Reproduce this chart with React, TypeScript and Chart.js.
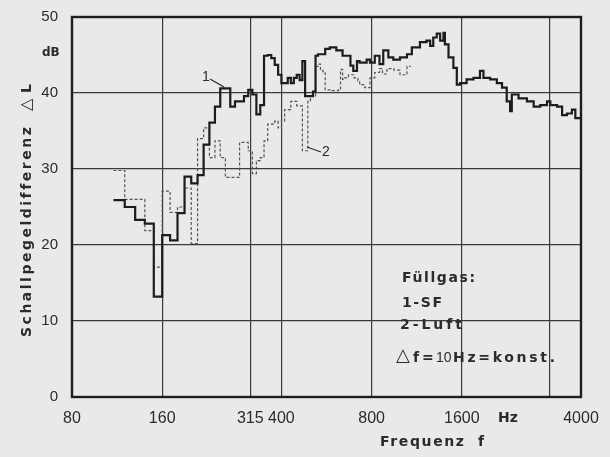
import React, { useEffect, useRef } from 'react';
import { Chart, registerables } from 'chart.js';

Chart.register(...registerables);

// ---- data ----
const xTicks = [80, 160, 315, 400, 800, 1600, 3150, 4000];
const xTicksUnlabeled = [3150];
const yTicks = [0, 10, 20, 30, 40, 50];

// Curve 1: Füllgas SF (step values, each valid from its frequency up to the next)
const sfFreq = [
  110, 120, 130, 140, 150, 160, 170, 180, 190, 200,
  210, 220, 230, 240, 250, 260, 270, 280, 290, 300,
  310, 320, 330, 340, 350, 360, 370, 380, 390, 400,
  410, 420, 430, 440, 450, 460, 470, 480, 490, 500,
  510, 520, 530, 550, 560, 580, 610, 640, 680, 695,
  715, 730, 770, 790, 820, 850, 875, 910, 945, 995,
  1050, 1090, 1160, 1220, 1255, 1285, 1320, 1355, 1390, 1405,
  1445, 1500, 1540, 1580, 1660, 1750, 1840, 1890, 1990, 2095,
  2180, 2260, 2320, 2350, 2475, 2640, 2780, 2925, 3080, 3160,
  3330, 3460, 3590, 3730, 3830, 4000,
];
const sfDb = [
  25.9, 25.0, 23.3, 22.8, 13.2, 21.3, 20.6, 24.2, 29.0, 28.1,
  29.2, 33.2, 36.1, 38.2, 40.6, 40.6, 38.2, 38.9, 38.9, 39.6,
  40.4, 39.8, 37.2, 38.4, 44.9, 45.0, 44.6, 43.7, 42.4, 41.3,
  41.3, 42.0, 41.3, 42.0, 42.4, 41.7, 44.2, 39.6, 39.6, 39.6,
  40.2, 44.9, 45.1, 45.1, 45.8, 46.0, 45.6, 44.9, 43.6, 42.9,
  44.2, 44.0, 44.4, 44.0, 44.9, 43.8, 45.6, 44.7, 44.4, 44.7,
  45.1, 46.0, 46.7, 46.9, 46.2, 47.3, 47.8, 46.9, 47.9, 46.4,
  44.7, 43.3, 41.1, 41.3, 41.8, 42.0, 42.9, 42.0, 41.8, 41.3,
  40.7, 38.9, 37.6, 39.8, 39.3, 38.9, 38.2, 38.4, 38.9, 38.4,
  38.2, 37.1, 37.3, 37.8, 36.7, 36.7,
];

// Curve 2: Füllgas Luft
const luftFreq = [
  110, 120, 130, 140, 150, 160, 170, 180, 190, 200,
  210, 220, 230, 240, 250, 260, 270, 280, 290, 300,
  310, 320, 330, 340, 350, 360, 370, 380, 390, 400,
  410, 420, 430, 440, 450, 460, 470, 480, 490, 500,
  510, 520, 530, 540, 550, 560, 590, 620, 630, 640,
  650, 670, 700, 720, 730, 760, 790, 820, 850, 870,
  900, 950, 995, 1050, 1080,
];
const luftDb = [
  29.8, 26.0, 26.0, 21.9, 17.1, 27.1, 24.3, 25.0, 27.5, 20.2,
  34.0, 35.4, 31.5, 33.7, 31.5, 28.9, 28.9, 28.9, 33.5, 33.5,
  32.4, 29.4, 31.1, 31.5, 33.7, 35.9, 35.9, 36.3, 35.4, 36.3,
  37.8, 37.8, 38.9, 38.9, 38.3, 38.3, 32.4, 32.4, 38.9, 39.6,
  39.6, 43.5, 43.8, 43.0, 42.8, 40.4, 40.3, 40.5, 43.1, 41.8,
  42.0, 42.4, 42.0, 41.6, 41.1, 40.7, 42.0, 42.7, 43.2, 42.5,
  43.2, 43.0, 42.4, 43.5, 43.5,
];

const BG = '#e9e9e7';
const INK = '#2b2b2b';
const SANS = '"Liberation Sans", Arial, sans-serif';
const BOLD = 'bold 14px "DejaVu Sans", sans-serif';

function spacedText(ctx: CanvasRenderingContext2D, text: string, x: number, y: number, width: number) {
  (ctx as any).letterSpacing = '0px';
  const w = ctx.measureText(text).width;
  const n = Math.max(1, text.length - 1);
  const sp = Math.max(0, (width - w) / n);
  (ctx as any).letterSpacing = sp + 'px';
  ctx.fillText(text, x, y);
  (ctx as any).letterSpacing = '0px';
}

export default function App() {
  const ref = useRef<HTMLCanvasElement>(null);

  useEffect(() => {
    const canvas = ref.current;
    if (!canvas) return;

    const decor = {
      id: 'decor',
      beforeDraw(chart: any) {
        const ctx = chart.ctx as CanvasRenderingContext2D;
        ctx.save();
        ctx.fillStyle = BG;
        ctx.fillRect(0, 0, chart.width, chart.height);
        ctx.restore();
      },
      afterDraw(chart: any) {
        const ctx = chart.ctx as CanvasRenderingContext2D;
        const a = chart.chartArea;
        ctx.save();
        // frame
        ctx.strokeStyle = '#1e1e1e';
        ctx.lineWidth = 2.4;
        ctx.strokeRect(a.left, a.top, a.right - a.left, a.bottom - a.top);

        ctx.fillStyle = INK;
        ctx.textBaseline = 'middle';
        ctx.textAlign = 'left';

        // dB unit
        ctx.font = 'bold 12px "DejaVu Sans", sans-serif';
        ctx.fillText('dB', 42, 53);
        // Hz unit
        ctx.font = BOLD;
        spacedText(ctx, 'Hz', 498, 418, 20);
        // x title
        ctx.font = BOLD;
        spacedText(ctx, 'Frequenz', 380, 442, 84);
        ctx.fillText('f', 478, 442);

        // y title (rotated)
        ctx.save();
        ctx.translate(27, 337);
        ctx.rotate(-Math.PI / 2);
        ctx.font = BOLD;
        spacedText(ctx, 'Schallpegeldifferenz', 0, 0, 209);
        ctx.font = '16px "DejaVu Sans", sans-serif';
        ctx.fillText('\u25B3', 226, 0);
        ctx.font = BOLD;
        ctx.fillText('L', 244, 0);
        ctx.restore();

        // legend block
        ctx.font = BOLD;
        spacedText(ctx, 'F\u00FCllgas:', 402, 278, 73);
        spacedText(ctx, '1-SF', 402, 303, 40);
        spacedText(ctx, '2-Luft', 400, 325, 62);
        // delta f line
        ctx.font = '18px "DejaVu Sans", sans-serif';
        ctx.fillText('\u25B3', 396, 356);
        ctx.font = BOLD;
        spacedText(ctx, 'f', 413, 358, 6);
        ctx.fillText('=', 422, 358);
        ctx.font = '14px ' + SANS;
        ctx.fillText('10', 436, 358);
        ctx.font = BOLD;
        spacedText(ctx, 'Hz=konst.', 453, 358, 102);

        // curve labels
        ctx.font = '14px ' + SANS;
        ctx.fillText('1', 202, 77);
        ctx.fillText('2', 322, 152);
        ctx.strokeStyle = '#2b2b2b';
        ctx.lineWidth = 1.2;
        ctx.beginPath();
        ctx.moveTo(210, 79);
        ctx.lineTo(224, 87);
        ctx.moveTo(307, 147);
        ctx.lineTo(321, 152);
        ctx.stroke();
        ctx.restore();
      },
    };

    const chart = new Chart(canvas, {
      type: 'line',
      data: {
        datasets: [
          {
            label: '1 - SF',
            data: sfFreq.map((f, i) => ({ x: f, y: sfDb[i] })),
            stepped: true,
            borderColor: '#1c1c1c',
            borderWidth: 2.2,
            pointRadius: 0,
            fill: false,
          },
          {
            label: '2 - Luft',
            data: luftFreq.map((f, i) => ({ x: f, y: luftDb[i] })),
            stepped: true,
            borderColor: '#555555',
            borderWidth: 1.2,
            borderDash: [3, 2],
            pointRadius: 0,
            fill: false,
          },
        ],
      },
      options: {
        responsive: false,
        animation: false,
        devicePixelRatio: 1,
        layout: { padding: { left: 0, right: 29, top: 17, bottom: 0 } },
        plugins: { legend: { display: false }, tooltip: { enabled: false } },
        scales: {
          x: {
            type: 'logarithmic',
            min: 80,
            max: 4000,
            afterBuildTicks: (s: any) => {
              s.ticks = xTicks.map((v) => ({ value: v }));
            },
            afterFit: (s: any) => {
              s.height = 60;
              s.paddingLeft = 0;
              s.paddingRight = 0;
            },
            ticks: {
              autoSkip: false,
              maxRotation: 0,
              padding: 12,
              color: INK,
              font: { family: SANS, size: 16 },
              callback: (v: any) => (xTicksUnlabeled.includes(Number(v)) ? '' : String(v)),
            },
            grid: { color: '#3a3a3a', lineWidth: 1.2, drawTicks: false },
            border: { display: false },
          },
          y: {
            type: 'linear',
            min: 0,
            max: 50,
            afterBuildTicks: (s: any) => {
              s.ticks = yTicks.map((v) => ({ value: v }));
            },
            afterFit: (s: any) => {
              s.width = 72;
              s.paddingTop = 0;
              s.paddingBottom = 0;
            },
            ticks: {
              padding: 14,
              color: INK,
              font: { family: SANS, size: 15 },
            },
            grid: { color: '#3a3a3a', lineWidth: 1.2, drawTicks: false },
            border: { display: false },
          },
        },
      },
      plugins: [decor],
    } as any);

    return () => chart.destroy();
  }, []);

  return (
    <div style={{ position: 'fixed', left: 0, top: 0, width: 610, height: 457, background: BG }}>
      <canvas ref={ref} width={610} height={457} style={{ display: 'block' }} />
    </div>
  );
}
